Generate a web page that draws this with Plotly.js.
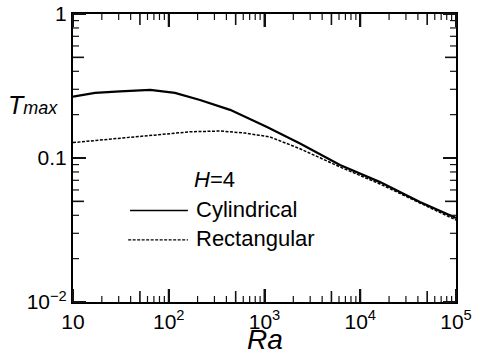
<!DOCTYPE html>
<html>
<head>
<meta charset="utf-8">
<script src="https://cdn.plot.ly/plotly-3.0.1.min.js"></script>
<style>html,body{margin:0;padding:0;background:#fff;}#chart{width:481px;height:358px;}</style>
</head>
<body>
<div id="chart"></div>
<script>
// Ra values and T_max for each geometry
const raCyl  = [10, 17, 31, 64, 116, 212, 437, 1062, 2350, 6150, 16100, 42000, 100000];
const tCyl   = [0.267, 0.283, 0.290, 0.297, 0.283, 0.253, 0.216, 0.164, 0.126, 0.0894, 0.068, 0.0495, 0.0383];
const raRect = [10, 24, 64, 167, 343, 625, 1140, 2350, 6150, 16100, 42000, 100000];
const tRect  = [0.128, 0.1355, 0.143, 0.152, 0.154, 0.149, 0.140, 0.116, 0.0866, 0.066, 0.0487, 0.0371];

// tick positions and labels
const xTickVals  = [10, 100, 1000, 10000, 100000];
const xTickText  = ['10', '10<sup>2</sup>', '10<sup>3</sup>', '10<sup>4</sup>', '10<sup>5</sup>'];
const xFiveVals  = [50, 500, 5000, 50000];
const xMinorVals = [20, 30, 40, 60, 70, 80, 90, 200, 300, 400, 600, 700, 800, 900,
                    2000, 3000, 4000, 6000, 7000, 8000, 9000, 20000, 30000, 40000, 60000, 70000, 80000, 90000];
const yTickVals  = [0.01, 0.1, 1];
const yTickText  = ['10<sup>\u22122</sup>', '0.1', '1'];
const yFiveVals  = [0.05, 0.5];
const yMinorVals = [0.02, 0.03, 0.04, 0.06, 0.07, 0.08, 0.09, 0.2, 0.3, 0.4, 0.6, 0.7, 0.8, 0.9];

const seriesNames = ['Cylindrical', 'Rectangular'];
const annotationLabel = '<i>H</i>=4';
const xTitle = '<i>Ra</i>';
const yTitle = "<i>T</i><span style='font-size:18px'><i>max</i></span>";

const font = 'Liberation Sans, Arial, sans-serif';
const INK = '#111';

// axis geometry
const X_RANGE = [1, 5], Y_RANGE = [-2, 0];
const M = {l: 73, r: 25, t: 14, b: 56};
const W = 481, H = 358;
const plotW = W - M.l - M.r, plotH = H - M.t - M.b;

// inward tick marks on all four sides, placed in paper fractions of the log axes
function tickShapes(xv, yv, len, width) {
  const out = [];
  const dy = len / plotH, dx = len / plotW;
  xv.forEach(v => {
    const p = (Math.log10(v) - X_RANGE[0]) / (X_RANGE[1] - X_RANGE[0]);
    out.push({type: 'line', xref: 'paper', yref: 'paper', x0: p, x1: p, y0: 0, y1: dy, layer: 'above', line: {color: INK, width: width}});
    out.push({type: 'line', xref: 'paper', yref: 'paper', x0: p, x1: p, y0: 1, y1: 1 - dy, layer: 'above', line: {color: INK, width: width}});
  });
  yv.forEach(v => {
    const p = (Math.log10(v) - Y_RANGE[0]) / (Y_RANGE[1] - Y_RANGE[0]);
    out.push({type: 'line', xref: 'paper', yref: 'paper', x0: 0, x1: dx, y0: p, y1: p, layer: 'above', line: {color: INK, width: width}});
    out.push({type: 'line', xref: 'paper', yref: 'paper', x0: 1, x1: 1 - dx, y0: p, y1: p, layer: 'above', line: {color: INK, width: width}});
  });
  return out;
}

const traces = [
  {x: raCyl, y: tCyl, name: seriesNames[0], mode: 'lines', line: {color: 'black', width: 2.2}},
  {x: raRect, y: tRect, name: seriesNames[1], mode: 'lines', line: {color: 'black', width: 1.5, dash: '3px,1.5px'}}
];

function axis(range, vals, text) {
  return {type: 'log', range: range, tickmode: 'array', tickvals: vals, ticktext: text,
          ticks: 'inside', ticklen: 13, tickwidth: 2, tickcolor: INK,
          showline: true, linewidth: 2, linecolor: 'black', mirror: 'allticks',
          showgrid: false, zeroline: false, tickfont: {family: font, size: 21, color: 'black'}};
}

const legendShapes = [
  {type: 'line', xref: 'paper', yref: 'paper', x0: 0.149, x1: 0.300, y0: 0.318, y1: 0.318, line: {color: 'black', width: 1.5}},
  {type: 'line', xref: 'paper', yref: 'paper', x0: 0.144, x1: 0.300, y0: 0.216, y1: 0.216, line: {color: 'black', width: 1.2, dash: '3px,1.5px'}}
];

const layout = {
  width: W, height: H,
  margin: M,
  showlegend: false,
  xaxis: axis(X_RANGE, xTickVals, xTickText),
  yaxis: axis(Y_RANGE, yTickVals, yTickText),
  annotations: [
    {xref: 'paper', yref: 'paper', x: 0.5, y: -0.07, xanchor: 'center', yanchor: 'top', showarrow: false,
     text: xTitle, font: {family: font, size: 28, color: 'black'}},
    {xref: 'paper', yref: 'paper', x: -0.035, y: 0.685, xanchor: 'right', yanchor: 'middle', showarrow: false,
     text: yTitle, font: {family: font, size: 25, color: 'black'}},
    {xref: 'paper', yref: 'paper', x: 0.312, y: 0.425, xanchor: 'left', yanchor: 'middle', showarrow: false,
     text: annotationLabel, font: {family: font, size: 22, color: 'black'}},
    {xref: 'paper', yref: 'paper', x: 0.316, y: 0.322, xanchor: 'left', yanchor: 'middle', showarrow: false,
     text: seriesNames[0], font: {family: font, size: 22, color: 'black'}},
    {xref: 'paper', yref: 'paper', x: 0.316, y: 0.219, xanchor: 'left', yanchor: 'middle', showarrow: false,
     text: seriesNames[1], font: {family: font, size: 22, color: 'black'}}
  ],
  shapes: legendShapes
    .concat(tickShapes(xTickVals, yTickVals, 13, 2))
    .concat(tickShapes(xFiveVals, yFiveVals, 11, 1.6))
    .concat(tickShapes(xMinorVals, yMinorVals, 6, 1.2))
};

Plotly.newPlot('chart', traces, layout, {displayModeBar: false});
</script>
</body>
</html>
